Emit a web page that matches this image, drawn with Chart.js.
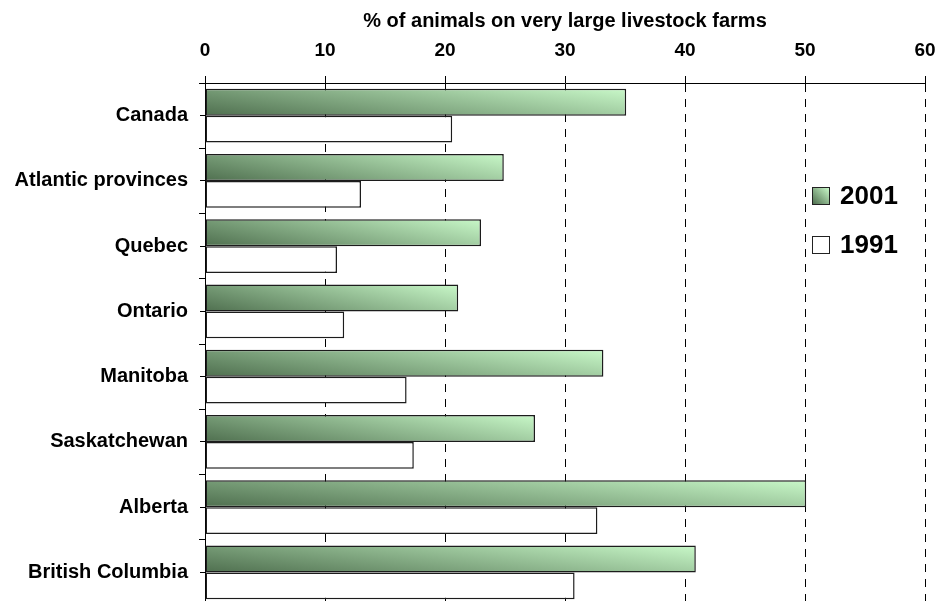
<!DOCTYPE html>
<html lang="en">
<head>
    <meta charset="UTF-8">
    <title>Very large livestock farms</title>
    <style>
        body {
            margin: 0;
            padding: 0;
            background-color: #ffffff;
            overflow: hidden;
            font-family: "Liberation Sans", Arial, sans-serif;
        }

        .chart-box {
            position: relative;
            width: 938px;
            height: 605px;
        }

        /* Legend sits inside the plot, on the right */
        .legend-item {
            position: absolute;
            left: 812px;
            display: flex;
            align-items: center;
            font-weight: bold;
            font-size: 26px;
            color: #000;
        }

        .legend-item .swatch {
            width: 16px;
            height: 16px;
            border: 1px solid #222;
            margin-right: 10px;
        }

        .swatch.y2001 {
            background: linear-gradient(to top right, #4f6f4f, #c8f8c8);
        }

        .swatch.y1991 {
            background: #ffffff;
        }
    </style>
    <script src="https://cdn.jsdelivr.net/npm/chart.js"></script>
</head>
<body>
    <div class="chart-box">
        <canvas id="farmChart"></canvas>
        <div class="legend-item" style="top: 180px;"><span class="swatch y2001"></span>2001</div>
        <div class="legend-item" style="top: 229px;"><span class="swatch y1991"></span>1991</div>
    </div>

    <script>
        // Data
        const regions = ['Canada', 'Atlantic provinces', 'Quebec', 'Ontario',
                         'Manitoba', 'Saskatchewan', 'Alberta', 'British Columbia'];
        const share2001 = [35.1, 24.9, 23.0, 21.1, 33.2, 27.5, 50.1, 40.9];
        const share1991 = [20.6, 13.0, 11.0, 11.6, 16.8, 17.4, 32.7, 30.8];
        const axisTitle = '% of animals on very large livestock farms';

        const FONT = '"Liberation Sans", Arial, sans-serif';
        const CAT_PCT = 0.82;

        // Each 2001 bar gets its own diagonal gradient: dark bottom-left, light top-right
        function barGradient(ctx) {
            const fallback = '#8fb88f';
            if (ctx.type !== 'data') return fallback;
            const chart = ctx.chart;
            const xs = chart.scales.x, ys = chart.scales.y;
            if (!xs || !ys) return fallback;
            const x0 = xs.getPixelForValue(0);
            const x1 = xs.getPixelForValue(ctx.raw);
            const band = ys.getPixelForValue(1) - ys.getPixelForValue(0);
            const h = band * CAT_PCT / 2;
            const yBottom = ys.getPixelForValue(ctx.dataIndex);
            const L = x1 - x0;
            if (![x0, x1, h, yBottom].every(Number.isFinite) || h <= 0 || L <= 0) return fallback;
            const a = 0.68, b = 0.32;
            const gx = a / L, gy = -b / h;
            const g2 = gx * gx + gy * gy;
            const grad = chart.ctx.createLinearGradient(x0, yBottom, x0 + gx / g2, yBottom + gy / g2);
            grad.addColorStop(0, '#4f6f4f');
            grad.addColorStop(1, '#c8f8c8');
            return grad;
        }

        new Chart(document.getElementById('farmChart'), {
            type: 'bar',
            data: {
                labels: regions,
                datasets: [
                    {
                        label: '2001',
                        data: share2001,
                        backgroundColor: barGradient,
                        borderColor: '#1c1c1c',
                        borderWidth: 1.5,
                        borderSkipped: false,
                        categoryPercentage: CAT_PCT,
                        barPercentage: 1
                    },
                    {
                        label: '1991',
                        data: share1991,
                        backgroundColor: '#ffffff',
                        borderColor: '#1c1c1c',
                        borderWidth: 1.5,
                        borderSkipped: false,
                        categoryPercentage: CAT_PCT,
                        barPercentage: 1
                    }
                ]
            },
            options: {
                indexAxis: 'y',
                responsive: true,
                maintainAspectRatio: false,
                animation: false,
                layout: { padding: { top: 0, right: 13, bottom: 0, left: 0 } },
                plugins: {
                    legend: { display: false },
                    tooltip: { enabled: false }
                },
                scales: {
                    x: {
                        position: 'top',
                        min: 0,
                        max: 60,
                        afterFit: (scale) => {
                            scale.height = 83;
                            scale.paddingLeft = 0;
                            scale.paddingRight = 0;
                        },
                        ticks: {
                            stepSize: 10,
                            padding: 14,
                            color: '#000',
                            font: { family: FONT, size: 19, weight: 'bold' }
                        },
                        grid: {
                            color: '#000',
                            lineWidth: 1,
                            tickLength: 7
                        },
                        border: {
                            display: true,
                            color: '#000',
                            width: 1,
                            dash: [8, 7]
                        },
                        title: {
                            display: true,
                            text: axisTitle,
                            color: '#000',
                            font: { family: FONT, size: 20, weight: 'bold' },
                            padding: { top: 9, bottom: 0 }
                        }
                    },
                    y: {
                        position: 'left',
                        weight: 1,
                        afterFit: (scale) => {
                            scale.width = 205;
                            scale.paddingTop = 0;
                            scale.paddingBottom = 0;
                        },
                        ticks: {
                            padding: 11,
                            color: '#000',
                            font: { family: FONT, size: 20, weight: 'bold' }
                        },
                        grid: {
                            offset: true,
                            drawOnChartArea: false,
                            color: '#000',
                            tickLength: 6
                        },
                        border: { display: true, color: '#000', width: 1 }
                    },
                    // second category axis only for the small ticks at each label
                    yTicks: {
                        type: 'category',
                        axis: 'y',
                        position: 'left',
                        weight: 0,
                        offset: true,
                        afterFit: (scale) => {
                            scale.width = 0;
                            scale.paddingTop = 0;
                            scale.paddingBottom = 0;
                        },
                        ticks: { display: false },
                        grid: {
                            offset: false,
                            drawOnChartArea: false,
                            color: '#000',
                            tickLength: 5
                        },
                        border: { display: false }
                    }
                }
            }
        });
    </script>
</body>
</html>
